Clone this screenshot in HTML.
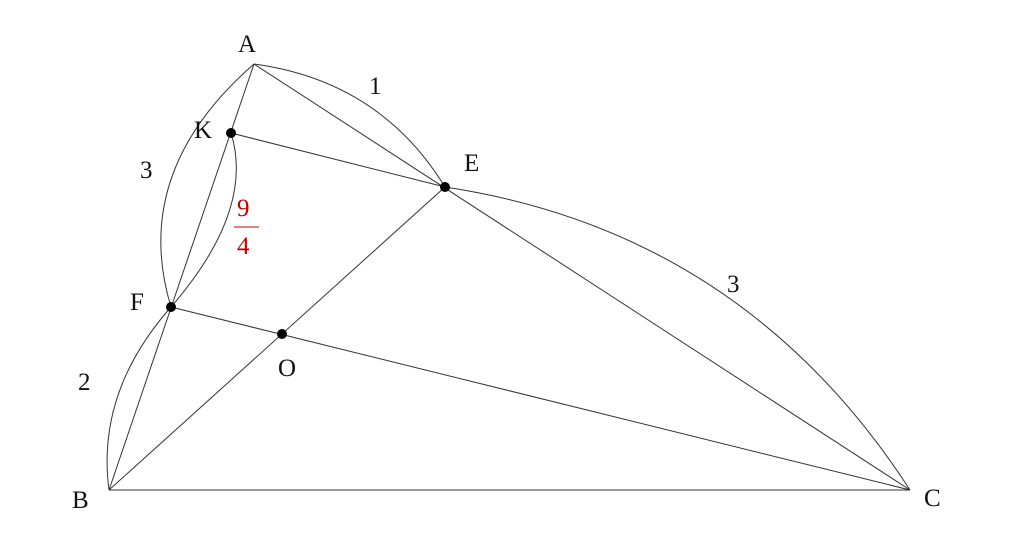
<!DOCTYPE html>
<html><head><style>html,body{margin:0;padding:0;background:#fff}</style></head><body>
<svg width="1024" height="540" xmlns="http://www.w3.org/2000/svg" style="display:block">
<g fill="none" stroke="#333" stroke-width="1">
<line x1="254" y1="64" x2="109" y2="490"/>
<line x1="254" y1="64" x2="910" y2="490"/>
<line x1="109" y1="490" x2="910" y2="490"/>
<line x1="231" y1="133" x2="445" y2="187"/>
<line x1="171" y1="307" x2="910" y2="490"/>
<line x1="109" y1="490" x2="445" y2="187"/>
<path d="M254,64 Q130,172 171,307"/>
<path d="M231,133 Q255,210 171,307"/>
<path d="M254,64 Q380,81 445,187"/>
<path d="M171,307 Q96,392 109,490"/>
<path d="M445,187 Q743,232 910,490"/>
</g>
<g fill="#000">
<circle cx="231" cy="133" r="5"/><circle cx="445" cy="187" r="5"/>
<circle cx="171" cy="307" r="5"/><circle cx="282" cy="334" r="5"/>
</g>
<g font-family="Liberation Serif, serif" font-size="25" fill="#111">
<text x="238" y="52">A</text>
<text x="194" y="138">K</text>
<text x="464" y="171">E</text>
<text x="130" y="310">F</text>
<text x="278" y="376">O</text>
<text x="72" y="508">B</text>
<text x="924" y="506">C</text>
<text x="369" y="94">1</text>
<text x="140" y="178">3</text>
<text x="78" y="390">2</text>
<text x="727" y="292">3</text>
</g>
<g font-family="Liberation Serif, serif" font-size="25" fill="#c00000">
<text x="237" y="216">9</text>
<line x1="234" y1="227" x2="259" y2="227" stroke="#c00000" stroke-width="1"/>
<text x="237" y="254">4</text>
</g>
</svg>
</body></html>
